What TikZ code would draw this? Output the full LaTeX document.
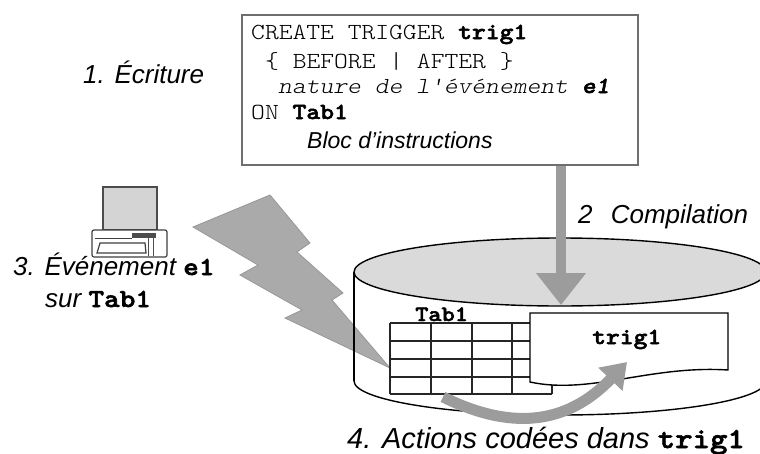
\documentclass[tikz,border=0pt]{standalone}
\usepackage{fontspec}
\setmainfont{Liberation Sans}
% light typewriter face widened to the usual 0.6em pitch, with heavier bold
\newfontfamily\cmono{lmmonolt10-regular.otf}[
  FakeStretch=1.143,
  ItalicFont=lmmonolt10-oblique.otf,
  BoldFont=lmmonolt10-bold.otf,
  BoldItalicFont=lmmonolt10-boldoblique.otf,
  BoldFeatures={FakeBold=2.2},
  BoldItalicFeatures={FakeBold=2.2}]
\usetikzlibrary{arrows.meta}

\definecolor{arrowgray}{HTML}{9C9C9C}
\definecolor{boltgray}{HTML}{AAAAAA}
\definecolor{boltedge}{HTML}{979797}
\definecolor{lidgray}{HTML}{DADADA}
\definecolor{screengray}{HTML}{D4D4D4}
\definecolor{inkgray}{HTML}{6E6E6E}

\newcommand\lblsize{\fontsize{26}{30}\selectfont}
\newcommand\codesize{\fontsize{23}{26}\selectfont}
\newcommand\kw[1]{{\cmono\upshape\bfseries #1}}

\begin{document}
\begin{tikzpicture}[x=1pt,y=-1pt,
  txt/.style={inner sep=0pt, anchor=base west},
  label/.style={txt, font=\lblsize\itshape},
  codeline/.style={txt, font=\cmono\codesize},
  bigarrow/.style={draw=arrowgray, line width=10pt},
  gridline/.style={line width=1.6pt, draw=black!85},
  outline/.style={line width=1.4pt, draw=black}]
\clip (0,0) rectangle (760,453);

% ---- trigger source code ----
\node[draw=inkgray, line width=2.5pt, fill=white, minimum width=396pt,
      minimum height=150pt, inner sep=0pt] (code) at (440,90) {};
\node[codeline] (l1) at (251,39) {CREATE TRIGGER \textbf{trig1}};
\node[codeline] (l2) at (265,68) {\{ BEFORE | AFTER \}};
\node[codeline, font=\cmono\codesize\itshape] (l3) at (278,93) {nature de l'événement \textbf{e1}};
\node[codeline] (l4) at (251,119) {ON \textbf{Tab1}};
\node[txt, font=\fontsize{23}{26}\selectfont\itshape] (l5) at (307,148) {Bloc d'instructions};

% ---- step labels ----
\node[label] (write) at (83,83) {1. Écriture};
\node[label] (comp) at (578,223) {2\hspace{0.7em}Compilation};
\node[label] (event) at (13,275) {3. Événement \kw{e1}};
\node[label] (on) at (45,307) {sur \kw{Tab1}};
\node[label, font=\fontsize{29}{32}\selectfont\itshape] (act) at (347,448) {4. Actions codées dans \kw{trig1}};

% ---- database cylinder ----
\path[fill=white, outline] (354,272) -- (354,381)
  arc[start angle=180, end angle=0, x radius=206, y radius=34] -- (766,272);
\draw[fill=lidgray, outline] (560,272) ellipse [x radius=206, y radius=34];

% ---- workstation ----
\draw[fill=screengray, draw=black!70, line width=1.2pt] (103,187) rectangle (157,230);
\draw[fill=white, draw=black!75, line width=1.2pt, rounded corners=2pt] (92,230) rectangle (167,257);
\draw[draw=black!75, line width=1pt] (95,238) -- (132,238);
\fill[black!70] (132,233) rectangle (156,238);
\draw[fill=white, draw=black!75, line width=1.2pt] (100,243) -- (145,243) -- (146,253) -- (97,253) -- cycle;
\draw[draw=black!70, line width=1pt] (148,238) -- (148,256) (153,238) -- (153,256);

% ---- event bolt ----
\draw[fill=boltgray, draw=boltedge, line width=0.8pt]
  (193,227) -- (270,195) -- (310,243) -- (297,252) -- (343,293) -- (332,300)
  -- (390,368) -- (285,318) -- (302,310) -- (240,275) -- (258,265) -- cycle;
\draw[outline] (354,272) -- (354,381);

% ---- compilation arrow ----
\coordinate (ctip) at (561,305);
\draw[bigarrow, -{Triangle[length=32pt, width=48pt]}] (code.south -| ctip) -- (ctip);

% ---- table Tab1 ----
\foreach \gy in {323,341,359,377,394} \draw[gridline] (390,\gy) -- (552,\gy);
\foreach \gx in {390,431,472,512,552} \draw[gridline] (\gx,323) -- (\gx,394);
\node[txt, font=\cmono\fontsize{22}{24}\selectfont\bfseries] (tab) at (415,321) {Tab1};

% ---- trigger object ----
\draw[fill=white, outline] (530,313) -- (728,313) -- (728,370)
  .. controls (650,365) and (590,395) .. (530,382) -- cycle;
\node[txt, font=\cmono\codesize\bfseries] (trig) at (592,344) {trig1};

% ---- action arrow ----
\coordinate (astart) at (443,397);
\coordinate (aend) at (627,362);
\draw[bigarrow, line width=11pt, -{Triangle[length=24pt, width=32pt]}]
  (astart) .. controls (500,425) and (560,432) .. (aend);
\end{tikzpicture}
\end{document}
